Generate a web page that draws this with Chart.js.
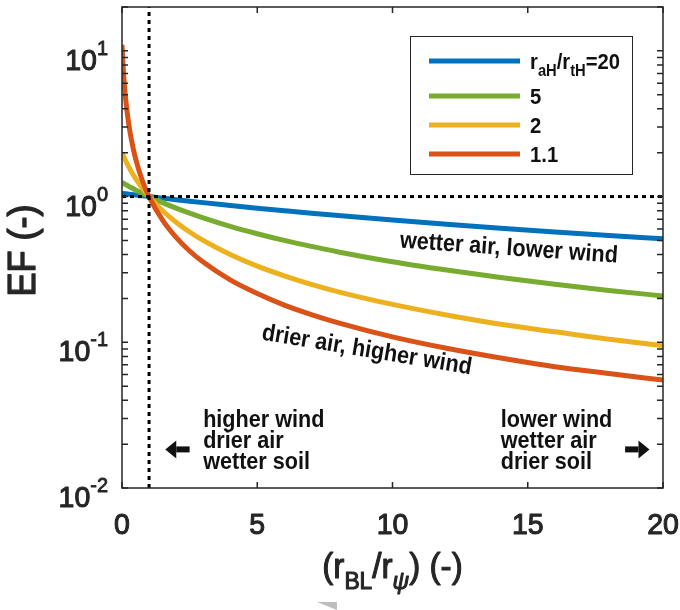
<!DOCTYPE html>
<html>
<head>
<meta charset="utf-8">
<script src="https://cdn.jsdelivr.net/npm/chart.js@4.4.1/dist/chart.umd.min.js"></script>
<style>
  html, body { margin: 0; padding: 0; background: #fff; }
  #wrap { width: 680px; height: 610px; }
</style>
</head>
<body>
<div id="wrap"><canvas id="chart-ef" width="680" height="610"></canvas></div>
<script>
'use strict';

/* ── Data ────────────────────────────────────────────────────── */
const xRatio = [0, 0.05, 0.1, 0.15, 0.25, 0.35, 0.5, 0.75, 1, 1.5, 2, 2.5, 3, 4, 5, 6, 7, 8, 10, 12, 14, 16, 18, 20];
const efRatio20 = [1.053, 1.050, 1.047, 1.044, 1.039, 1.034, 1.026, 1.013, 1, 0.976, 0.952, 0.930, 0.909, 0.870, 0.833, 0.800, 0.769, 0.741, 0.690, 0.645, 0.606, 0.571, 0.541, 0.513];
const efRatio5 = [1.25, 1.235, 1.220, 1.205, 1.176, 1.149, 1.111, 1.053, 1, 0.909, 0.833, 0.769, 0.714, 0.625, 0.556, 0.500, 0.455, 0.417, 0.357, 0.313, 0.278, 0.250, 0.227, 0.208];
const efRatio2 = [2.00, 1.905, 1.818, 1.739, 1.600, 1.481, 1.333, 1.143, 1, 0.800, 0.667, 0.571, 0.500, 0.400, 0.333, 0.286, 0.250, 0.222, 0.182, 0.154, 0.133, 0.118, 0.105, 0.095];
const efRatio1p1 = [11.0, 7.33, 5.50, 4.40, 3.14, 2.44, 1.83, 1.29, 1, 0.688, 0.524, 0.423, 0.355, 0.268, 0.216, 0.180, 0.155, 0.136, 0.109, 0.091, 0.078, 0.068, 0.061, 0.055];

const seriesLabels = ['20', '5', '2', '1.1'];
const xTicks = [0, 5, 10, 15, 20];
const yTickExps = [-2, -1, 0, 1];
const xRange = [0, 20];
const yRange = [0.01, 20];
const refX = 1;   // vertical dotted reference line
const refY = 1;   // horizontal dotted reference line

/* ── Colours (MATLAB defaults) ───────────────────────────────── */
const COLORS = {
    blue: '#0072BD',
    green: '#77AC30',
    yellow: '#EDB120',
    red: '#D95319',
    ink: '#262626',
};
const seriesColors = [COLORS.blue, COLORS.green, COLORS.yellow, COLORS.red];
const FONT = "'Liberation Sans', Arial, Helvetica, sans-serif";

const toPts = ys => xRatio.map((x, i) => ({ x, y: ys[i] }));

/* ── Rich text helper (sub/superscripts) ─────────────────────── */
// heavy > 0 adds a thin outline so regular glyphs read like a medium weight
function drawRich(ctx, segs, x, y, align, size, smallSize, weight, squeeze = 1, heavy = 0) {
    const fontFor = s => `${s.italic ? 'italic ' : ''}${weight} ${s.sub || s.sup ? smallSize : size}px ${FONT}`;
    let total = 0;
    segs.forEach(s => { ctx.font = fontFor(s); s.w = ctx.measureText(s.t).width * squeeze; total += s.w; });
    let cx = align === 'center' ? x - total / 2 : align === 'right' ? x - total : x;
    ctx.textAlign = 'left';
    ctx.textBaseline = 'alphabetic';
    segs.forEach(s => {
        ctx.font = fontFor(s);
        const dy = s.sub ? size * 0.3 : s.sup ? -size * 0.45 : 0;
        ctx.save();
        ctx.translate(cx, y + dy);
        ctx.scale(squeeze, 1);
        ctx.fillText(s.t, 0, 0);
        if (heavy) {
            ctx.strokeStyle = ctx.fillStyle;
            ctx.lineWidth = heavy;
            ctx.lineJoin = 'round';
            ctx.strokeText(s.t, 0, 0);
        }
        ctx.restore();
        cx += s.w;
    });
}

/* ── Frame, ticks, labels, legend, notes ─────────────────────── */
const decorPlugin = {
    id: 'decor',
    afterDraw(chart) {
        const { ctx, chartArea: a, scales: { x, y } } = chart;
        ctx.save();
        ctx.strokeStyle = COLORS.ink;
        ctx.fillStyle = COLORS.ink;
        ctx.lineWidth = 1.5;
        ctx.strokeRect(a.left, a.top, a.right - a.left, a.bottom - a.top);

        // ticks pointing inward
        const tl = 6;
        ctx.beginPath();
        xTicks.forEach(v => {
            const px = x.getPixelForValue(v);
            ctx.moveTo(px, a.bottom); ctx.lineTo(px, a.bottom - tl);
            ctx.moveTo(px, a.top); ctx.lineTo(px, a.top + tl);
        });
        yTickExps.forEach(e => {
            for (let m = 1; m <= 9; m++) {
                const v = m * Math.pow(10, e);
                if (v < yRange[0] || v > yRange[1]) continue;
                const py = y.getPixelForValue(v);
                ctx.moveTo(a.left, py); ctx.lineTo(a.left + tl, py);
                ctx.moveTo(a.right, py); ctx.lineTo(a.right - tl, py);
            }
        });
        ctx.stroke();

        // tick labels
        ctx.fillStyle = COLORS.ink;
        xTicks.forEach(v => {
            drawRich(ctx, [{ t: String(v) }], x.getPixelForValue(v), a.bottom + 46, 'center', 30, 21, 'normal', 0.95, 1.1);
        });
        yTickExps.forEach(e => {
            const py = y.getPixelForValue(Math.pow(10, e));
            const right = a.left - 14;
            ctx.font = `normal 21px ${FONT}`;
            const wE = ctx.measureText(String(e)).width * 0.95;
            drawRich(ctx, [{ t: '10' }], right - wE, py + 19, 'right', 30, 21, 'normal', 0.95, 1.1);
            drawRich(ctx, [{ t: String(e) }], right, py + 4, 'right', 21, 21, 'normal', 0.95, 0.9);
        });

        // axis titles
        drawRich(ctx, [{ t: '(r' }, { t: 'BL', sub: true }, { t: '/r' }, { t: 'ψ', sub: true, italic: true }, { t: ') (-)' }],
            (a.left + a.right) / 2, a.bottom + 90, 'center', 35, 24, 'normal', 0.95, 1.1);
        ctx.save();
        ctx.translate(35, (a.top + a.bottom) / 2 + 3);
        ctx.rotate(-Math.PI / 2);
        drawRich(ctx, [{ t: 'EF (-)' }], 0, 0, 'center', 38, 24, 'normal', 0.95, 1.3);
        ctx.restore();

        // legend
        const lg = { left: 410, top: 36, right: 632, bottom: 174 };
        ctx.fillStyle = '#fff';
        ctx.fillRect(lg.left, lg.top, lg.right - lg.left, lg.bottom - lg.top);
        ctx.lineWidth = 1;
        ctx.strokeStyle = COLORS.ink;
        ctx.strokeRect(lg.left + 0.5, lg.top + 0.5, lg.right - lg.left, lg.bottom - lg.top);
        const rows = [61, 96, 125, 154];
        seriesLabels.forEach((lab, i) => {
            ctx.strokeStyle = seriesColors[i];
            ctx.lineWidth = 5;
            ctx.beginPath();
            ctx.moveTo(429, rows[i]); ctx.lineTo(520, rows[i]);
            ctx.stroke();
            ctx.fillStyle = '#111';
            const segs = i === 0
                ? [{ t: 'r' }, { t: 'aH', sub: true }, { t: '/r' }, { t: 'tH', sub: true }, { t: '=20' }]
                : [{ t: lab }];
            drawRich(ctx, segs, 530, rows[i] + 8, 'left', 22, 16, 'bold', 0.92);
        });

        // rotated curve notes
        ctx.fillStyle = '#111';
        const note = (txt, vx, vy, deg) => {
            ctx.save();
            ctx.translate(x.getPixelForValue(vx), y.getPixelForValue(vy));
            ctx.rotate(deg * Math.PI / 180);
            ctx.scale(0.9, 1);
            ctx.font = `bold 24px ${FONT}`;
            ctx.textAlign = 'center';
            ctx.textBaseline = 'middle';
            ctx.fillText(txt, 0, 0);
            ctx.restore();
        };
        note('wetter air, lower wind', 14.3, 0.44, 4);
        note('drier air, higher wind', 9.05, 0.088, 9.5);

        // direction blocks
        const block = (lines, vx, vy) => {
            const px = x.getPixelForValue(vx), py = y.getPixelForValue(vy);
            lines.forEach((l, i) => {
                ctx.save();
                ctx.translate(px, py + i * 21);
                ctx.scale(0.9, 1);
                ctx.font = `bold 24px ${FONT}`;
                ctx.textAlign = 'left';
                ctx.textBaseline = 'middle';
                ctx.fillText(l, 0, 0);
                ctx.restore();
            });
        };
        block(['higher wind', 'drier air', 'wetter soil'], 3.0, 0.029);
        block(['lower wind', 'wetter air', 'drier soil'], 14.0, 0.029);

        const arrow = (x0, x1, vy, dir) => {
            const p0 = x.getPixelForValue(x0), p1 = x.getPixelForValue(x1), py = y.getPixelForValue(vy);
            const tip = dir < 0 ? p0 : p1, tail = dir < 0 ? p1 : p0;
            const head = 11 * dir;
            ctx.fillStyle = '#111';
            ctx.fillRect(Math.min(tail, tip - head), py - 3, Math.abs(tail - (tip - head)), 6);
            ctx.beginPath();
            ctx.moveTo(tip, py);
            ctx.lineTo(tip - head, py - 9);
            ctx.lineTo(tip - head, py + 9);
            ctx.closePath();
            ctx.fill();
        };
        arrow(1.6, 2.5, 0.0184, -1);
        arrow(18.6, 19.5, 0.0184, 1);

        // small grey wedge below the x title
        ctx.fillStyle = '#bdbdbd';
        ctx.beginPath();
        ctx.moveTo(317, 602); ctx.lineTo(337, 602); ctx.lineTo(337, 610);
        ctx.closePath();
        ctx.fill();

        ctx.restore();
    }
};

/* ── Chart ───────────────────────────────────────────────────── */
const curve = (data, color, order) => ({
    data: toPts(data), borderColor: color, borderWidth: 5, pointRadius: 0,
    cubicInterpolationMode: 'monotone', fill: false, order,
});
const refLine = (pts) => ({
    data: pts, borderColor: '#000', borderWidth: 3, borderDash: [4, 4], pointRadius: 0, fill: false, order: 0,
});

new Chart(document.getElementById('chart-ef'), {
    type: 'line',
    data: {
        datasets: [
            curve(efRatio20, COLORS.blue, 4),
            curve(efRatio5, COLORS.green, 3),
            curve(efRatio2, COLORS.yellow, 2),
            curve(efRatio1p1, COLORS.red, 1),
            refLine([{ x: refX, y: yRange[0] }, { x: refX, y: yRange[1] }]),
            refLine([{ x: xRange[0], y: refY }, { x: xRange[1], y: refY }]),
        ]
    },
    options: {
        responsive: false,
        animation: false,
        devicePixelRatio: 1,
        layout: { padding: { left: 122, right: 17, top: 7, bottom: 122 } },
        scales: {
            x: { type: 'linear', min: xRange[0], max: xRange[1], display: false },
            y: { type: 'logarithmic', min: yRange[0], max: yRange[1], display: false },
        },
        plugins: { legend: { display: false }, tooltip: { enabled: false } },
    },
    plugins: [decorPlugin],
});
</script>
</body>
</html>
